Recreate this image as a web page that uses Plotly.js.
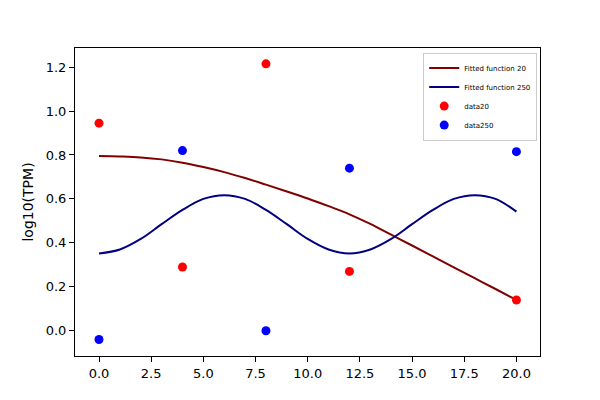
<!DOCTYPE html>
<html>
<head>
<meta charset="utf-8">
<script src="https://cdn.plot.ly/plotly-3.0.1.min.js"></script>
<style>html,body{margin:0;padding:0;background:#fff}#chart{width:600px;height:400px}</style>
</head>
<body>
<div id="chart"></div>
<script>
// Fitted curve readings
const fitX20 = [0,1,2,3,4,5,6,7,8,9,10,11,12,13,14,15,16,17,18,19,20];
const fitY20 = [0.795,0.793,0.789,0.78,0.765,0.745,0.722,0.695,0.665,0.634,0.602,0.567,0.53,0.486,0.437,0.388,0.338,0.288,0.239,0.19,0.14];
const fitX250 = [0,1,2,3,4,5,6,7,8,9,10,11,12,13,14,15,16,17,18,19,20];
const fitY250 = [0.352,0.37,0.418,0.485,0.55,0.60,0.617,0.60,0.55,0.485,0.418,0.37,0.352,0.37,0.418,0.485,0.55,0.60,0.617,0.60,0.542];
// Data points
const dataX = [0, 4, 8, 12, 20];
const data20 = [0.945, 0.29, 1.215, 0.27, 0.14];
const data250 = [-0.04, 0.82, 0.0, 0.74, 0.815];
const xTicks = [0, 2.5, 5, 7.5, 10, 12.5, 15, 17.5, 20];
const xTickText = ['0.0','2.5','5.0','7.5','10.0','12.5','15.0','17.5','20.0'];
const yTicks = [0, 0.2, 0.4, 0.6, 0.8, 1.0, 1.2];
const yTickText = ['0.0','0.2','0.4','0.6','0.8','1.0','1.2'];

const traces = [
  {x: fitX20, y: fitY20, mode: 'lines', name: 'Fitted function 20',
   line: {color: '#800000', width: 2, shape: 'spline', smoothing: 1}},
  {x: fitX250, y: fitY250, mode: 'lines', name: 'Fitted function 250',
   line: {color: '#000080', width: 2, shape: 'spline', smoothing: 1}},
  {x: dataX, y: data20, mode: 'markers', name: 'data20',
   marker: {color: '#ff0000', size: 9}},
  {x: dataX, y: data250, mode: 'markers', name: 'data250',
   marker: {color: '#0000ff', size: 9}}
];

const axisCommon = {
  showgrid: false, zeroline: false, showline: true, linecolor: '#000', linewidth: 1,
  mirror: true, ticks: 'outside', ticklen: 5, tickwidth: 1, tickcolor: '#000',
  tickfont: {family: 'DejaVu Sans', size: 13, color: '#000'}
};

const layout = {
  width: 600, height: 400,
  margin: {l: 75, r: 60, t: 48, b: 44},
  paper_bgcolor: '#fff', plot_bgcolor: '#fff',
  showlegend: true,
  legend: {x: 0.994, y: 0.985, xanchor: 'right', yanchor: 'top',
    bgcolor: 'rgba(255,255,255,0.8)', bordercolor: '#cccccc', borderwidth: 1,
    font: {family: 'DejaVu Sans', size: 7, color: '#000'},
    tracegroupgap: 0, itemwidth: 30},
  xaxis: Object.assign({}, axisCommon, {range: [-1.15, 21.13], tickvals: xTicks, ticktext: xTickText}),
  yaxis: Object.assign({}, axisCommon, {range: [-0.115, 1.287], tickvals: yTicks, ticktext: yTickText,
    title: {text: 'log10(TPM)', font: {family: 'DejaVu Sans', size: 14, color: '#000'}, standoff: 8}})
};

Plotly.newPlot('chart', traces, layout, {displayModeBar: false, staticPlot: true});
</script>
</body>
</html>
